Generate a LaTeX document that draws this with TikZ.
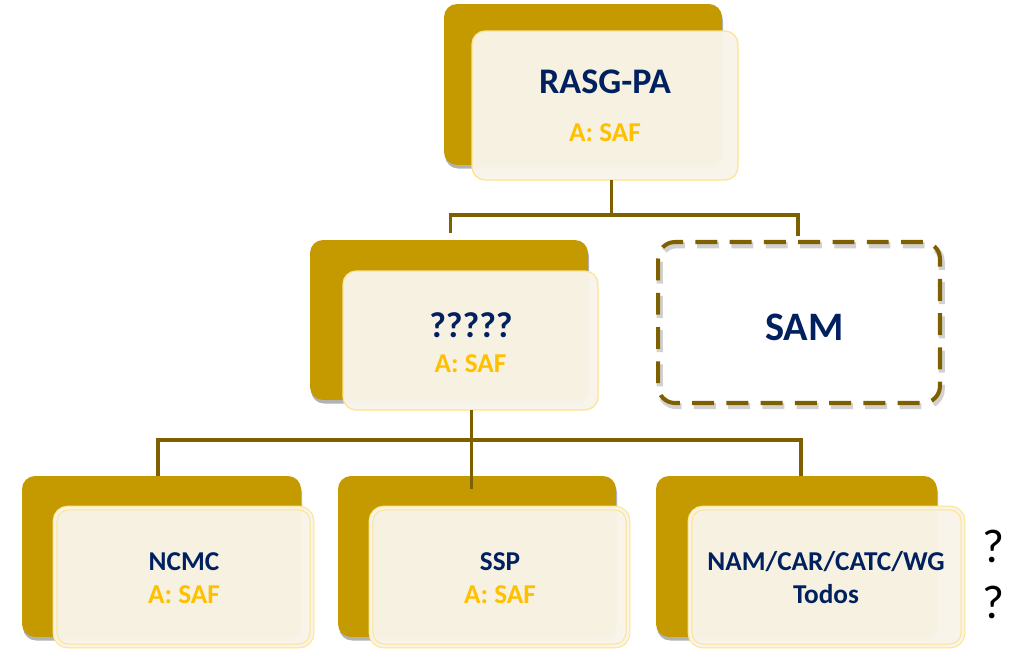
\documentclass[tikz,border=0pt]{standalone}
\usepackage{fontspec}
\setmainfont{Carlito}
\usetikzlibrary{calc,shadows}
\definecolor{gold}{HTML}{C49A00}
\definecolor{olive}{HTML}{7F6000}
\definecolor{navy}{HTML}{002060}
\definecolor{amber}{HTML}{FFC000}
\definecolor{cream}{HTML}{F8F4E8}
\definecolor{paleline}{HTML}{FFE38C}
\begin{document}
\begin{tikzpicture}[x=0.02cm,y=-0.02cm,
  backbox/.style={fill=gold, rounded corners=0.26cm, inner sep=0pt, outer sep=0pt,
    drop shadow={shadow xshift=0.6pt, shadow yshift=-2pt, opacity=0.3, fill=black}},
  frontbox/.style={fill=cream, fill opacity=0.97, draw=paleline, line width=0.7pt,
    rounded corners=0.26cm, inner sep=0pt, outer sep=0pt},
  dblbox/.style={frontbox, double=cream, double distance=1.6pt, line width=0.6pt},
  dashbox/.style={draw=olive, line width=2.3pt, dash pattern=on 12.5pt off 7pt,
    rounded corners=0.34cm, inner sep=0pt, outer sep=0pt,
    preaction={draw=black!45, line width=3.5pt, dash pattern=on 12.5pt off 7pt,
      opacity=0.4, transform canvas={xshift=1pt,yshift=-1.8pt}}},
  conn/.style={draw=olive, line width=1.9pt},
  ttl/.style={anchor=base, text=navy, font=\bfseries},
  sub/.style={anchor=base, text=amber, font=\bfseries\fontsize{15.5}{18}\selectfont},
  qmark/.style={anchor=base, text=black, font=\fontsize{27}{30}\selectfont}
]
\useasboundingbox (0,0) rectangle (1017,649);

% back boxes
\node[backbox, minimum width=5.56cm, minimum height=3.22cm] (tb) at (583,84.5) {};
\node[backbox, minimum width=5.56cm, minimum height=3.20cm] (mb) at (449,320) {};
\node[backbox, minimum width=5.58cm, minimum height=3.22cm] (b1) at (161.5,556.5) {};
\node[backbox, minimum width=5.56cm, minimum height=3.22cm] (b2) at (477,556.5) {};
\node[backbox, minimum width=5.62cm, minimum height=3.22cm] (b3) at (796.5,556.5) {};

% front boxes
\node[frontbox, minimum width=5.32cm, minimum height=2.98cm] (tf) at (605,105.5) {};
\node[frontbox, minimum width=5.10cm, minimum height=2.78cm] (mf) at (470.5,340.5) {};
\node[dblbox, minimum width=5.14cm, minimum height=2.76cm] (f1) at (183.5,577) {};
\node[dblbox, minimum width=5.14cm, minimum height=2.76cm] (f2) at (499.5,577) {};
\node[dblbox, minimum width=5.46cm, minimum height=2.76cm] (f3) at (826.5,577) {};

% dashed SAM box
\node[dashbox, minimum width=5.64cm, minimum height=3.22cm] (sam) at (799,322.5) {};

% connectors
\coordinate (j1) at (611.7,215);
\draw[conn] (j1 |- tf.south) -- (j1);
\draw[conn] ($(mb.north)+(1.5,-7)$) |- (j1) -| ($(sam.north)+(-1,-6)$);
\coordinate (j2) at (471.7,440);
\draw[conn] (j2 |- mf.south) -- ($(j2 |- b2.north)+(0,13)$);
\draw[conn] ($(b1.north)+(-3.5,0)$) |- (j2) -| ($(b3.north)+(4.5,0)$);

% texts
\node[ttl, font=\bfseries\fontsize{20.5}{24}\selectfont] (tt) at (605,93.5) {RASG-PA};
\node[sub] (ts) at (605,141) {A: SAF};
\node[ttl, font=\bfseries\fontsize{20.5}{24}\selectfont] (mt) at (471,337) {?????};
\node[sub] (ms) at (470.5,372) {A: SAF};
\node[ttl, font=\bfseries\fontsize{23}{26}\selectfont] (st) at (804.5,340) {SAM};
\node[ttl, font=\bfseries\fontsize{15.5}{18}\selectfont] (n1) at (184,570) {NCMC};
\node[sub] (s1) at (184,603) {A: SAF};
\node[ttl, font=\bfseries\fontsize{15.5}{18}\selectfont] (n2) at (500,570) {SSP};
\node[sub] (s2) at (500,603) {A: SAF};
\node[ttl, font=\bfseries\fontsize{15.5}{18}\selectfont] (n3) at (826,570) {NAM/CAR/CATC/WG};
\node[ttl, font=\bfseries\fontsize{15.5}{18}\selectfont] (s3) at (826,603) {Todos};
\node[qmark] (q1) at (993,562) {?};
\node[qmark] (q2) at (993,618) {?};
\end{tikzpicture}
\end{document}
